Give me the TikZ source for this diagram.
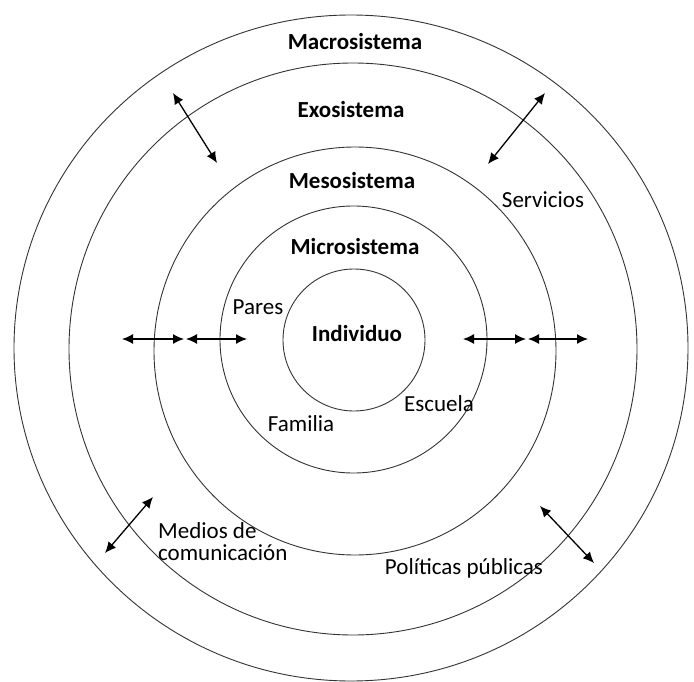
\documentclass[tikz,border=0pt]{standalone}
\usepackage{fontspec}
\setmainfont{Carlito}
\usetikzlibrary{arrows.meta}

\begin{document}
\begin{tikzpicture}[x=1pt,y=-1pt,
    anillo/.style={draw=black!80,line width=0.9pt},
    texto/.style={inner sep=0pt,font=\fontsize{23}{22}\selectfont},
    sistema/.style={inner sep=0pt,font=\fontsize{23}{22}\selectfont\bfseries},
    flecha/.style={{Latex[length=11pt,width=10pt]}-{Latex[length=11pt,width=10pt]},line width=1.3pt}]
    \useasboundingbox (0,0) rectangle (694,682);
    % anillos
    \draw[anillo] (351,348) ellipse [x radius=337pt, y radius=333pt];
    \draw[anillo] (353,349) ellipse [x radius=284pt, y radius=286pt];
    \draw[anillo] (355,351) ellipse [x radius=201pt, y radius=204pt];
    \draw[anillo] (353.5,339.5) circle [radius=133.5pt];
    \draw[anillo] (354,340) circle [radius=71pt];
    % sistemas
    \node[sistema] (macro) at (355,42) {Macrosistema};
    \node[sistema] (exo) at (351,110) {Exosistema};
    \node[sistema] (meso) at (352,181) {Mesosistema};
    \node[sistema] (micro) at (355,247) {Microsistema};
    \node[sistema] (indiv) at (357,334) {Individuo};
    % contextos
    \node[texto] (pares) at (258,307) {Pares};
    \node[texto] (familia) at (301,424) {Familia};
    \node[texto] (escuela) at (439,404) {Escuela};
    \node[texto] (servicios) at (543,200) {Servicios};
    \node[texto,align=left,anchor=west] (medios) at (158,542) {Medios de\\comunicación};
    \node[texto] (politicas) at (464,568) {Políticas públicas};
    % flechas
    \coordinate (si1) at (173,93);  \coordinate (si2) at (217,163);
    \coordinate (sd1) at (545,93);  \coordinate (sd2) at (488,164);
    \coordinate (iz1) at (122,339); \coordinate (iz2) at (184,339); \coordinate (iz3) at (186,339); \coordinate (iz4) at (247,339);
    \coordinate (de1) at (463,339); \coordinate (de2) at (526,339); \coordinate (de3) at (528,339); \coordinate (de4) at (588,339);
    \coordinate (ii1) at (105,553); \coordinate (ii2) at (153,497);
    \coordinate (id1) at (540,506); \coordinate (id2) at (594,563);
    \draw[flecha] (si1) -- (si2);
    \draw[flecha] (sd1) -- (sd2);
    \draw[flecha] (iz1) -- (iz2);
    \draw[flecha] (iz3) -- (iz4);
    \draw[flecha] (de1) -- (de2);
    \draw[flecha] (de3) -- (de4);
    \draw[flecha] (ii1) -- (ii2);
    \draw[flecha] (id1) -- (id2);
\end{tikzpicture}
\end{document}
